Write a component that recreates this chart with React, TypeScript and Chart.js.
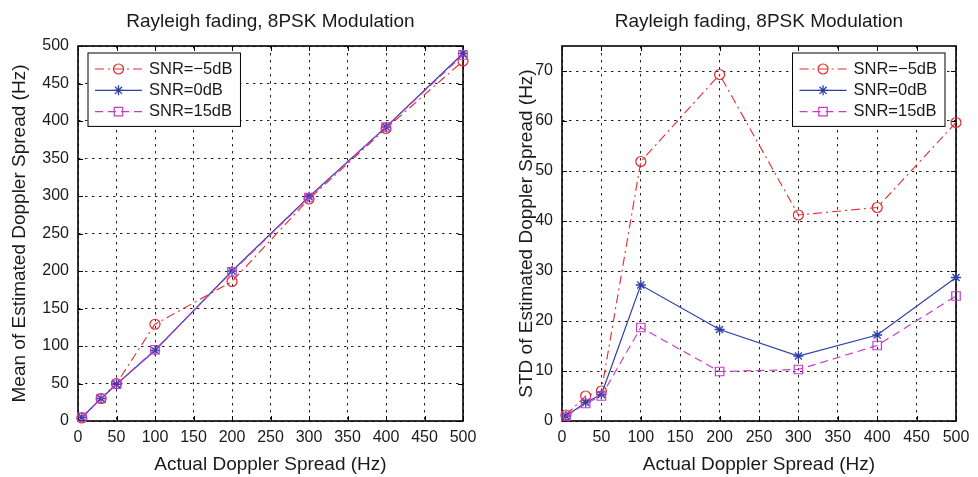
import React, { useEffect, useRef } from 'react';
import { Chart, registerables } from 'chart.js';
import { drawPoint } from 'chart.js/helpers';

Chart.register(...registerables);

// ---------- data ----------
const dopplerHz = [5, 30, 50, 100, 200, 300, 400, 500];
const seriesLabels = ['SNR=\u22125dB', 'SNR=0dB', 'SNR=15dB'];

const meanSnrM5 = [4, 30, 50, 129, 186, 296, 390, 480];
const meanSnr0 = [5, 30, 49, 94, 200, 299, 392, 490];
const meanSnr15 = [5, 30, 49, 95, 199, 298, 392, 488];

const stdSnrM5 = [1.2, 5, 6, 51.9, 69.3, 41.2, 42.7, 59.7];
const stdSnr0 = [1, 3.7, 5.3, 27.2, 18.3, 13, 17.2, 28.7];
const stdSnr15 = [0.9, 3.5, 5, 18.7, 9.9, 10.3, 15.1, 25];

const xTickValues = [0, 50, 100, 150, 200, 250, 300, 350, 400, 450, 500];
const meanTickValues = [0, 50, 100, 150, 200, 250, 300, 350, 400, 450, 500];
const stdTickValues = [0, 10, 20, 30, 40, 50, 60, 70];

const chartTitle = 'Rayleigh fading, 8PSK Modulation';
const xTitle = 'Actual Doppler Spread (Hz)';
const meanTitle = 'Mean of Estimated Doppler Spread (Hz)';
const stdTitle = 'STD of Estimated Doppler Spread (Hz)';

// ---------- styles ----------
const FONT = '"Liberation Sans", Arial, Helvetica, sans-serif';
const TEXT = '#1a1a1a';
const RED = '#e42a2a';
const BLUE = '#2f3fa8';
const MAGENTA = '#c63cc6';
const CANVAS_W = 489;
const CANVAS_H = 477;

const framePlugin = {
  id: 'frame',
  beforeDatasetsDraw(chart: any) {
    const { ctx, chartArea: a, scales } = chart;
    ctx.save();
    ctx.strokeStyle = '#000';
    ctx.lineWidth = 1;
    ctx.setLineDash([]);
    const tl = 5;
    scales.x.ticks.forEach((t: any) => {
      const px = Math.round(scales.x.getPixelForValue(t.value)) + 0.5;
      ctx.beginPath();
      ctx.moveTo(px, a.bottom); ctx.lineTo(px, a.bottom - tl);
      ctx.moveTo(px, a.top); ctx.lineTo(px, a.top + tl);
      ctx.stroke();
    });
    scales.y.ticks.forEach((t: any) => {
      const py = Math.round(scales.y.getPixelForValue(t.value)) + 0.5;
      ctx.beginPath();
      ctx.moveTo(a.left, py); ctx.lineTo(a.left + tl, py);
      ctx.moveTo(a.right, py); ctx.lineTo(a.right - tl, py);
      ctx.stroke();
    });
    ctx.lineWidth = 1.6;
    ctx.strokeRect(a.left, a.top, a.right - a.left, a.bottom - a.top);
    ctx.restore();
  },
};

const boxLegendPlugin = {
  id: 'boxLegend',
  afterDraw(chart: any, _args: any, opts: any) {
    const { ctx, chartArea: a } = chart;
    const ds = chart.data.datasets;
    ctx.save();
    ctx.font = `16.5px ${FONT}`;
    const textW = Math.max(...ds.map((d: any) => ctx.measureText(d.label).width));
    const padL = 7, lineW = 47, gap = 7, padR = 8, rowH = 21.3, padT = 16;
    const w = padL + lineW + gap + textW + padR;
    const h = 73.4;
    const x0 = opts.side === 'right' ? a.right - opts.offsetX - w : a.left + opts.offsetX;
    const y0 = a.top + opts.offsetY;
    ctx.fillStyle = '#fff';
    ctx.fillRect(x0, y0, w, h);
    ctx.strokeStyle = '#000';
    ctx.lineWidth = 1;
    ctx.strokeRect(x0, y0, w, h);
    ds.forEach((d: any, i: number) => {
      const y = y0 + padT + i * rowH;
      ctx.strokeStyle = d.borderColor;
      ctx.lineWidth = d.borderWidth;
      ctx.setLineDash(d.borderDash || []);
      ctx.beginPath();
      ctx.moveTo(x0 + padL, y);
      ctx.lineTo(x0 + padL + lineW, y);
      ctx.stroke();
      ctx.setLineDash([]);
      ctx.strokeStyle = d.pointBorderColor;
      ctx.fillStyle = 'rgba(0,0,0,0)';
      ctx.lineWidth = d.pointBorderWidth;
      drawPoint(ctx, { pointStyle: d.pointStyle, radius: d.pointRadius, borderWidth: d.pointBorderWidth, rotation: 0 }, x0 + padL + lineW / 2, y);
      ctx.fillStyle = TEXT;
      ctx.textAlign = 'left';
      ctx.textBaseline = 'middle';
      ctx.fillText(d.label, x0 + padL + lineW + gap, y);
    });
    ctx.restore();
  },
};

function makeDatasets(a: number[], b: number[], c: number[]) {
  const pts = (vals: number[]) => dopplerHz.map((x, i) => ({ x, y: vals[i] }));
  return [
    {
      label: seriesLabels[0], data: pts(a), borderColor: RED, borderWidth: 1.1, borderDash: [9, 4, 2, 4],
      pointStyle: 'circle', pointRadius: 5, pointBorderColor: RED, pointBackgroundColor: 'rgba(0,0,0,0)',
      pointBorderWidth: 1.2, fill: false, tension: 0, clip: false, order: 3,
    },
    {
      label: seriesLabels[1], data: pts(b), borderColor: BLUE, borderWidth: 1.2, borderDash: [],
      pointStyle: 'star', pointRadius: 5, pointBorderColor: BLUE, pointBackgroundColor: 'rgba(0,0,0,0)',
      pointBorderWidth: 1.3, fill: false, tension: 0, clip: false, order: 2,
    },
    {
      label: seriesLabels[2], data: pts(c), borderColor: MAGENTA, borderWidth: 1.2, borderDash: [8, 5],
      pointStyle: 'rect', pointRadius: 6, pointBorderColor: MAGENTA, pointBackgroundColor: 'rgba(0,0,0,0)',
      pointBorderWidth: 1.2, fill: false, tension: 0, clip: false, order: 1,
    },
  ];
}

function makeConfig(opts: {
  datasets: any[]; yMax: number; yTicks: number[]; yTitle: string;
  yAxisWidth: number; yTitlePad: number; rightPad: number; legendSide: string; legendOffsetX: number;
}): any {
  return {
    type: 'line',
    data: { datasets: opts.datasets },
    plugins: [framePlugin, boxLegendPlugin],
    options: {
      responsive: false,
      animation: false,
      devicePixelRatio: 1,
      layout: { padding: { left: 0, right: opts.rightPad, top: 0, bottom: 0 } },
      plugins: {
        legend: { display: false },
        tooltip: { enabled: false },
        title: {
          display: true, text: chartTitle, fullSize: false, color: TEXT,
          font: { family: FONT, size: 19, weight: 'normal' }, padding: { top: 10, bottom: 13.2 },
        },
        boxLegend: { side: opts.legendSide, offsetX: opts.legendOffsetX, offsetY: 7 },
      },
      scales: {
        x: {
          type: 'linear', min: 0, max: 500,
          afterBuildTicks: (s: any) => { s.ticks = xTickValues.map((v) => ({ value: v })); },
          afterFit: (s: any) => { s.height = CANVAS_H - 421; },
          ticks: { padding: 7, color: TEXT, font: { family: FONT, size: 16 }, maxRotation: 0, autoSkip: false },
          grid: { color: '#222', lineWidth: 1, drawTicks: false },
          border: { display: false, dash: [2.5, 4.5] },
          title: { display: true, text: xTitle, color: TEXT, font: { family: FONT, size: 19 }, padding: { top: 0, bottom: 1.3 } },
        },
        y: {
          type: 'linear', min: 0, max: opts.yMax,
          afterBuildTicks: (s: any) => { s.ticks = opts.yTicks.map((v) => ({ value: v })); },
          afterFit: (s: any) => { s.width = opts.yAxisWidth; },
          ticks: { padding: 9, color: TEXT, font: { family: FONT, size: 16 }, autoSkip: false },
          grid: { color: '#222', lineWidth: 1, drawTicks: false },
          border: { display: false, dash: [2.5, 4.5] },
          title: { display: true, text: opts.yTitle, color: TEXT, font: { family: FONT, size: 19 }, padding: { top: opts.yTitlePad, bottom: 0 } },
        },
      },
    },
  };
}

function ChartCanvas({ config, left }: { config: () => any; left: number }) {
  const ref = useRef<HTMLCanvasElement | null>(null);
  useEffect(() => {
    if (!ref.current) return;
    const chart = new Chart(ref.current, config());
    return () => chart.destroy();
  }, []);
  return (
    <canvas
      ref={ref}
      width={CANVAS_W}
      height={CANVAS_H}
      style={{ position: 'absolute', left, top: 0, width: CANVAS_W, height: CANVAS_H }}
    />
  );
}

export default function App() {
  return (
    <div style={{ position: 'absolute', left: 0, top: 0, width: 978, height: 477, background: '#fff' }}>
      <ChartCanvas
        left={0}
        config={() => makeConfig({
          datasets: makeDatasets(meanSnrM5, meanSnr0, meanSnr15), yMax: 500, yTicks: meanTickValues,
          yTitle: meanTitle, yAxisWidth: 78, yTitlePad: 8.6, rightPad: CANVAS_W - 463, legendSide: 'left', legendOffsetX: 10,
        })}
      />
      <ChartCanvas
        left={489}
        config={() => makeConfig({
          datasets: makeDatasets(stdSnrM5, stdSnr0, stdSnr15), yMax: 75, yTicks: stdTickValues,
          yTitle: stdTitle, yAxisWidth: 562 - 489, yTitlePad: 26.6, rightPad: CANVAS_W - (956 - 489), legendSide: 'right', legendOffsetX: 11,
        })}
      />
    </div>
  );
}
